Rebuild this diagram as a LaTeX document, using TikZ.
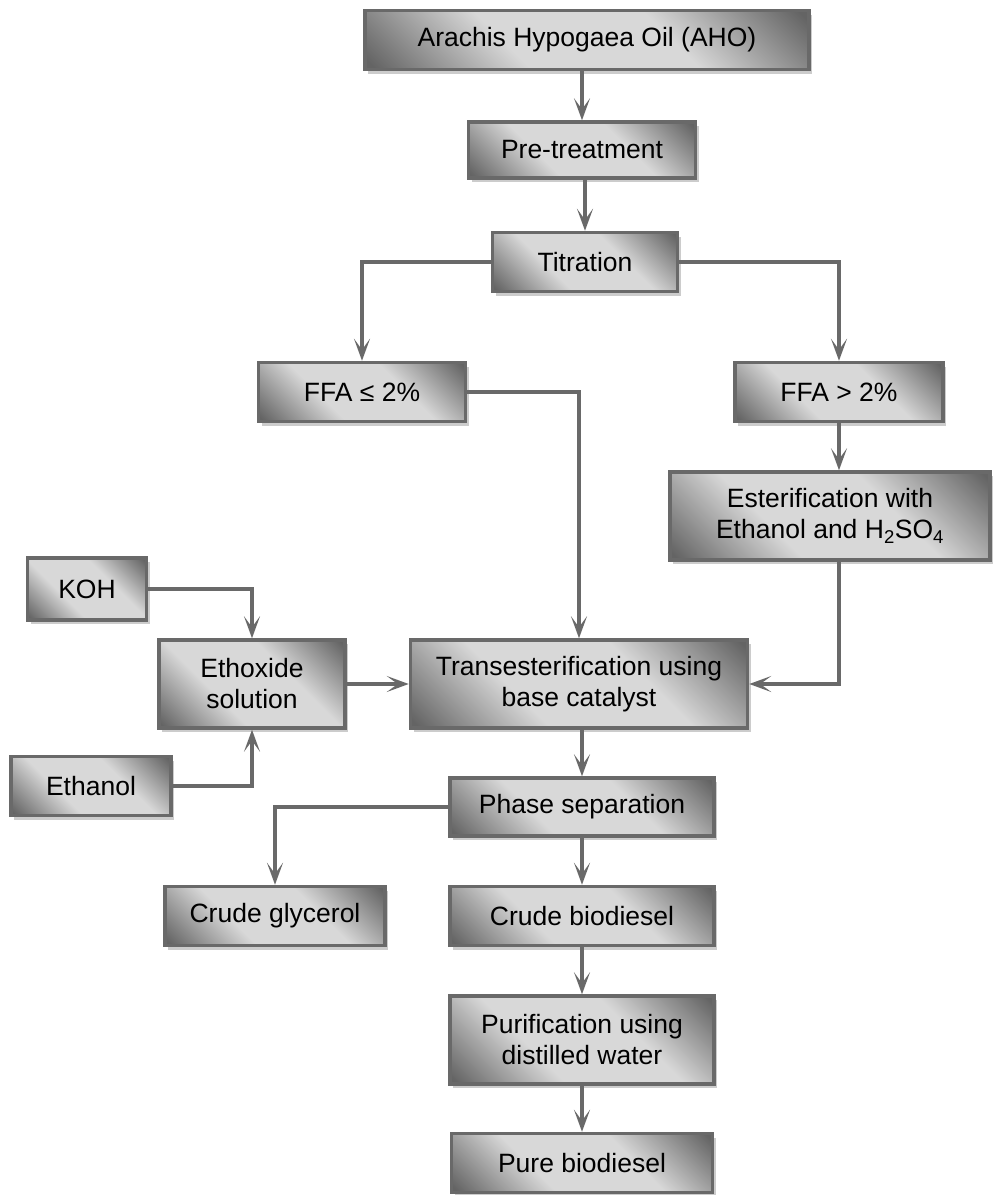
\documentclass[tikz,border=0pt]{standalone}
\usepackage{fontspec}
\setmainfont{Liberation Sans}
\usetikzlibrary{arrows.meta,shadows}
\definecolor{boxdark}{RGB}{100,100,100}
\definecolor{boxlight}{RGB}{216,216,216}
\definecolor{boxline}{RGB}{105,105,105}
\definecolor{arrowgray}{RGB}{105,105,105}
\pgfdeclareverticalshading{boxshade}{100bp}{color(0bp)=(boxdark); color(16bp)=(boxdark); color(38bp)=(boxlight); color(62bp)=(boxlight); color(84bp)=(boxdark); color(100bp)=(boxdark)}

\begin{document}
\begin{tikzpicture}[x=1pt,y=-1pt,
  every node/.style={font=\fontsize{26.5}{31}\selectfont},
  proc/.style={draw=boxline,line width=3.5pt,shading=boxshade,shading angle=-45,
    drop shadow={shadow xshift=3pt,shadow yshift=-4pt,fill=black!20,opacity=1},
    minimum height=59pt,align=center,inner sep=2pt},
  flow/.style={draw=arrowgray,line width=3.5pt,-{Stealth[length=22pt,width=16pt,inset=11pt]}}]
  \useasboundingbox (0,0) rectangle (993,1195);
  \node[proc,minimum width=444pt] (aho) at (587,40) {Arachis Hypogaea Oil (AHO)};
  \node[proc,minimum width=227pt,minimum height=56pt] (pre) at (582,150) {Pre-treatment};
  \node[proc,minimum width=185pt] (tit) at (585,262) {Titration};
  \node[proc,minimum width=207pt] (low) at (362,392) {FFA ≤ 2\%};
  \node[proc,minimum width=208pt] (high) at (839,392) {FFA > 2\%};
  \node[proc,minimum width=320pt,minimum height=88pt] (est) at (830,516) {Esterification with\\Ethanol and H\textsubscript{2}SO\textsubscript{4}};
  \node[proc,minimum width=119pt,minimum height=62pt] (koh) at (87,589) {KOH};
  \node[proc,minimum width=186pt,minimum height=88pt] (etx) at (252,684) {Ethoxide\\solution};
  \node[proc,minimum width=160pt] (eth) at (91,786) {Ethanol};
  \node[proc,minimum width=337pt,minimum height=88pt] (trans) at (579,684) {Transesterification using\\base catalyst};
  \node[proc,minimum width=264pt,minimum height=58pt] (phase) at (582,807) {Phase separation};
  \node[proc,minimum width=220pt] (gly) at (275,916) {Crude glycerol};
  \node[proc,minimum width=264pt] (crude) at (582,916) {Crude biodiesel};
  \node[proc,minimum width=264pt,minimum height=88pt] (pur) at (582,1040) {Purification using\\distilled water};
  \node[proc,minimum width=261pt] (pure) at (582,1163) {Pure biodiesel};
  \draw[flow] (aho.south -| pre) -- (pre);
  \draw[flow] (pre.south -| tit) -- (tit);
  \draw[flow] (tit.west) -| (low);
  \draw[flow] (tit.east) -| (high);
  \draw[flow] (high) -- (high |- est.north);
  \draw[flow] (low.east) -| (trans);
  \draw[flow] (est.south -| high) |- (trans.east);
  \draw[flow] (koh.east) -| (etx);
  \draw[flow] (eth.east) -| (etx);
  \draw[flow] (etx) -- (trans);
  \draw[flow] (trans.south -| phase) -- (phase);
  \draw[flow] (phase.west) -| (gly);
  \draw[flow] (phase) -- (crude);
  \draw[flow] (crude) -- (pur);
  \draw[flow] (pur) -- (pure);
\end{tikzpicture}
\end{document}
